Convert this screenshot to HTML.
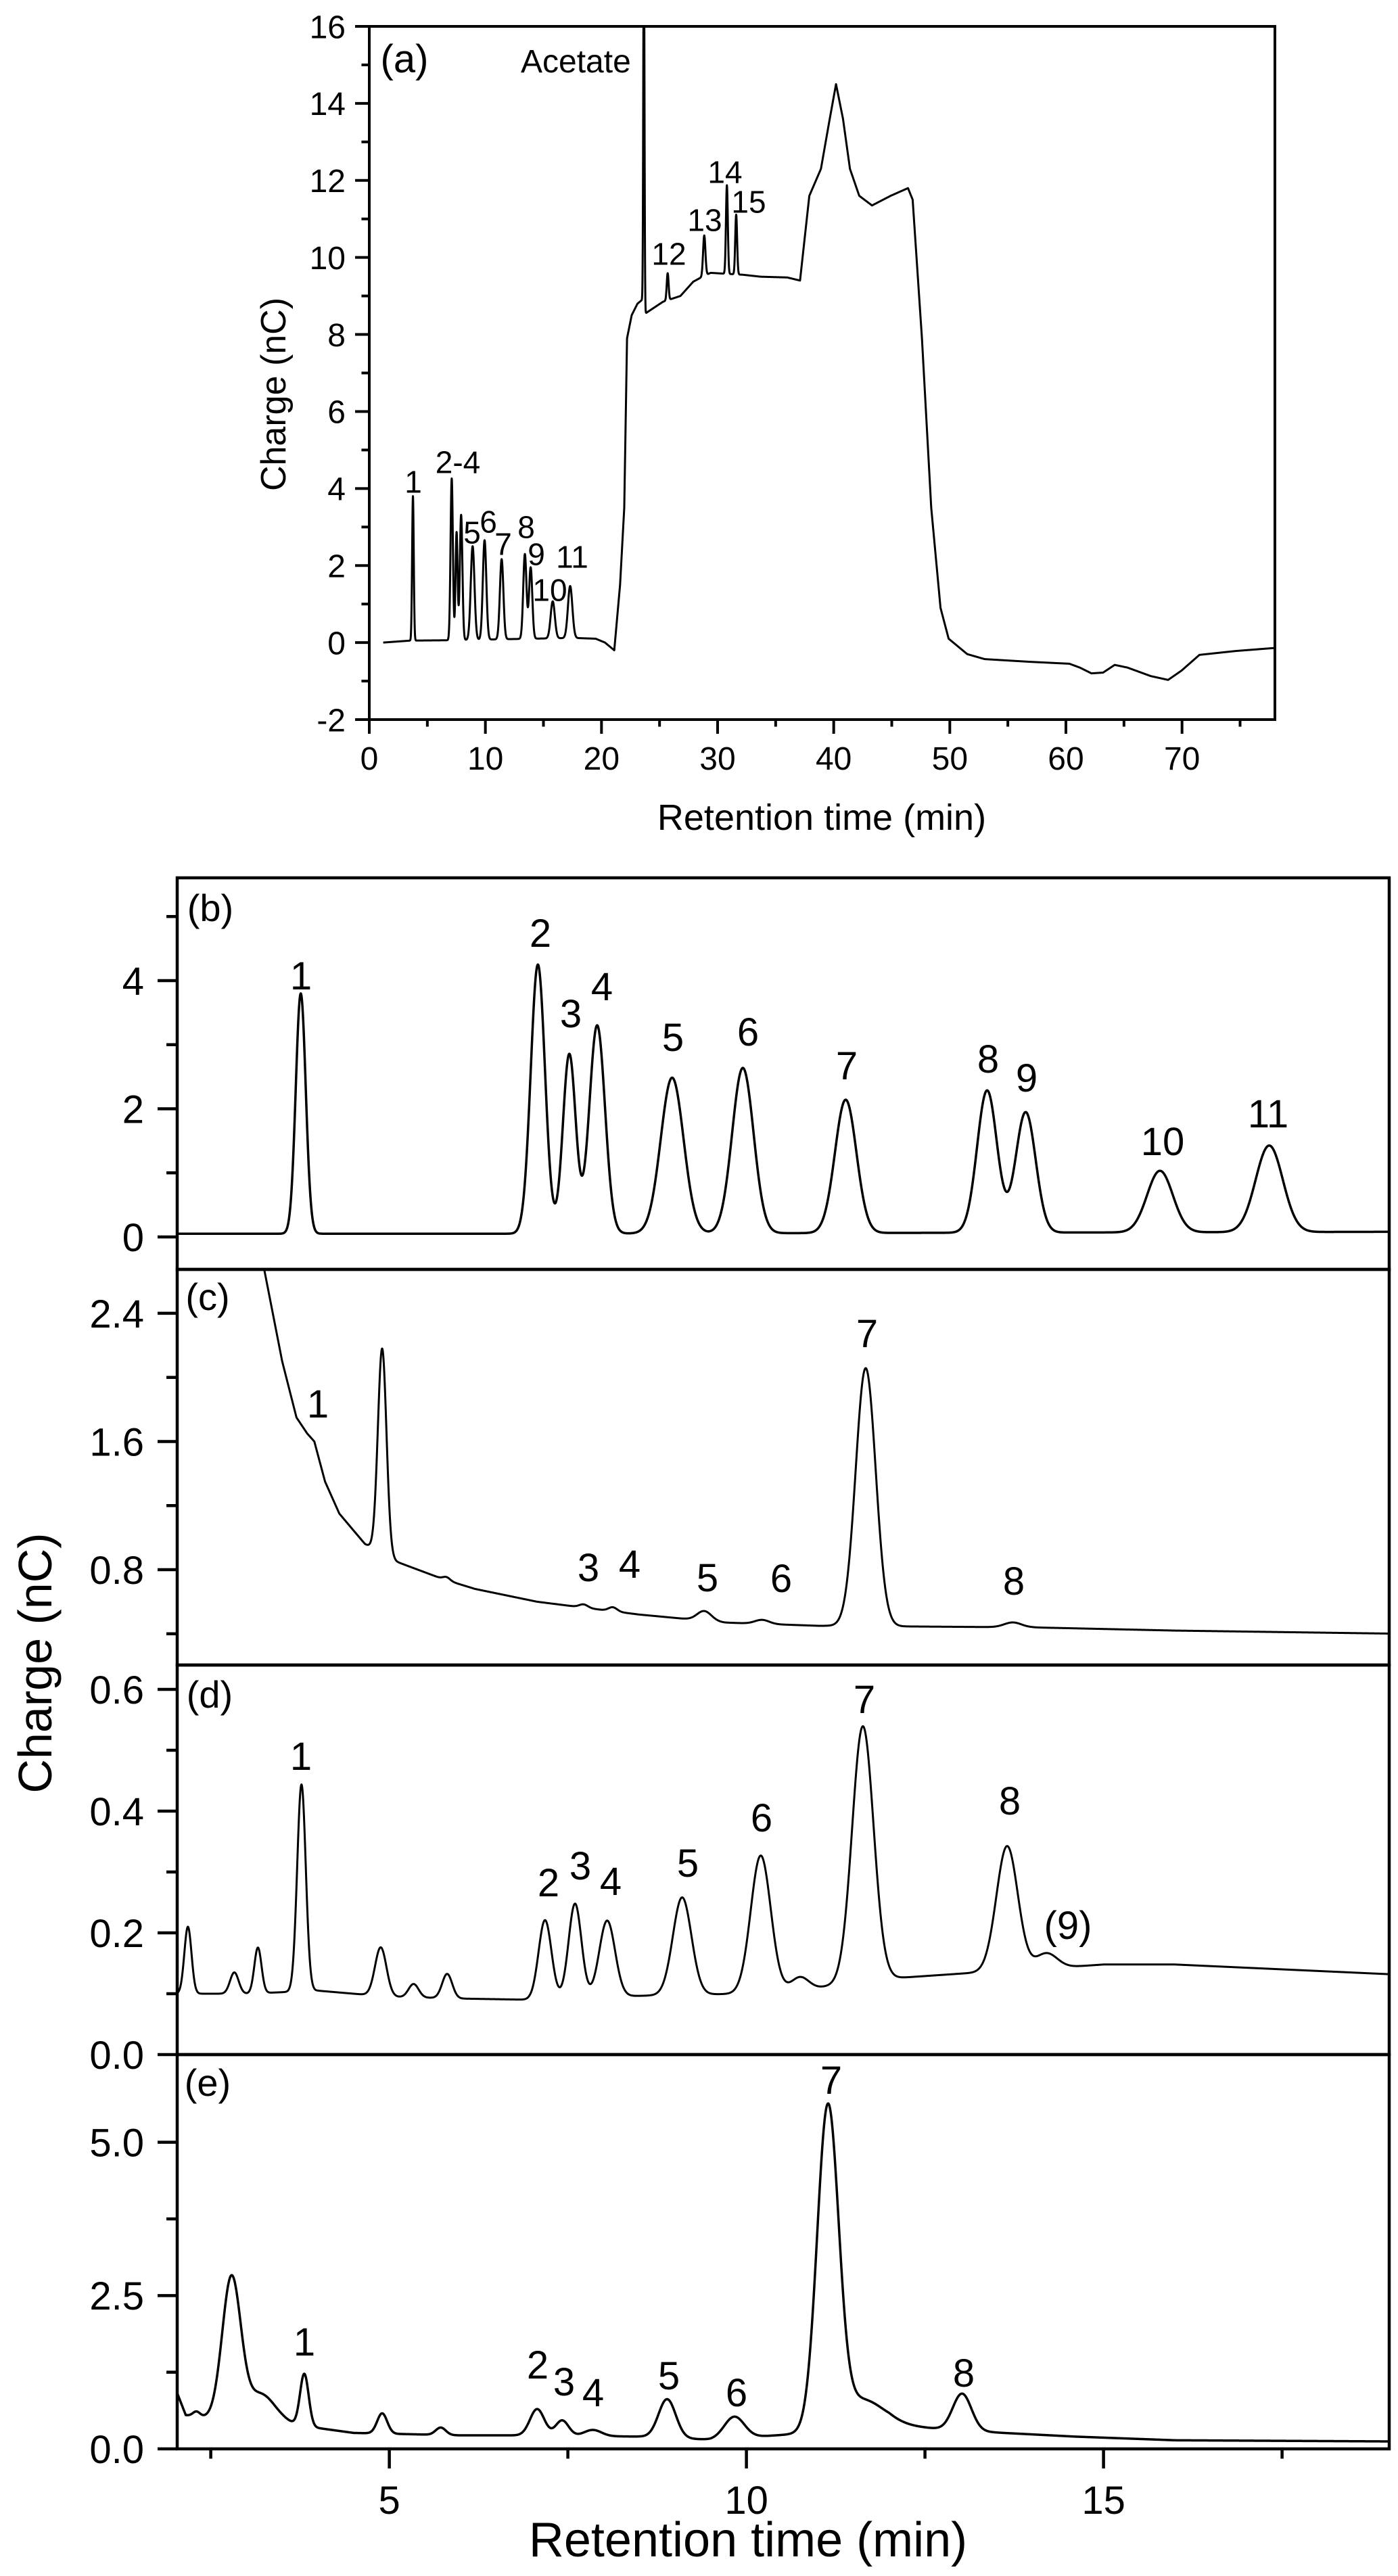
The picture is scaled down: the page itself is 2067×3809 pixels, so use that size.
<!DOCTYPE html>
<html><head><meta charset="utf-8"><style>
html,body{margin:0;padding:0;background:#fff}
svg{display:block}
text{font-family:"Liberation Sans",Arial,sans-serif;fill:#000}
</style></head><body>
<svg id="fig" width="2067" height="3809" viewBox="0 0 2067 3809" xmlns="http://www.w3.org/2000/svg">
<rect width="2067" height="3809" fill="#fff"/>
<g id="layer"></g>
</svg>
<script>
// ---------- Panel (a) data ----------
const aBaseT=[1.2,3.5,6.8,17.6,19.5,20.3,21.1,21.6,21.96,22.2,22.6,23.1,23.5,23.8,25.3,26.8,27.9,28.7,29.4,32.2,33.7,36.0,37.1,37.9,38.9,39.6,40.2,40.8,41.4,42.2,43.3,44.9,46.4,46.8,47.6,48.4,49.2,49.9,51.5,53.0,56.9,60.3,61.2,62.2,63.2,64.2,65.3,67.3,68.8,69.95,71.5,74.6,78];
const aBaseV=[0.0,0.05,0.06,0.12,0.1,0.0,-0.2,1.5,3.5,7.9,8.5,8.8,8.9,8.55,8.85,9.0,9.37,9.5,9.6,9.55,9.5,9.48,9.4,11.6,12.3,13.5,14.5,13.6,12.3,11.6,11.35,11.6,11.8,11.5,7.9,3.5,0.9,0.1,-0.3,-0.43,-0.5,-0.55,-0.65,-0.8,-0.78,-0.58,-0.65,-0.87,-0.97,-0.73,-0.32,-0.22,-0.14];
const aPeakT=[3.76,7.1,7.52,7.91,8.9,9.93,11.4,13.4,13.9,15.8,17.3,23.65,25.7,28.85,30.8,31.6];
const aPeakH=[3.75,4.2,2.8,3.25,2.43,2.58,2.08,2.2,1.85,0.96,1.35,10,0.7,1.05,2.3,1.55];
const aPeakW=[0.07,0.1,0.09,0.11,0.16,0.15,0.15,0.14,0.14,0.18,0.19,0.05,0.08,0.1,0.08,0.08];
// ---------- Panel (b) ----------
const bBaseT=[2.0,7.0,19.0];
const bBaseV=[0.05,0.05,0.08];
const bPeakT=[3.76,7.08,7.52,7.91,8.96,9.95,11.39,13.37,13.91,15.79,17.32];
const bPeakH=[3.75,4.2,2.8,3.25,2.43,2.58,2.08,2.22,1.88,0.96,1.35];
const bPeakW=[0.07,0.1,0.09,0.11,0.16,0.15,0.15,0.14,0.14,0.18,0.19];
// ---------- Panel (c) ----------
const cBaseT=[3.25,3.5,3.7,3.85,3.95,4.1,4.3,4.66,5.1,5.76,6.2,7.07,8.5,9.7,11.0,14.0,16.0,19.2];
const cBaseV=[2.67,2.1,1.75,1.65,1.6,1.35,1.15,0.96,0.85,0.74,0.68,0.6,0.52,0.47,0.45,0.44,0.42,0.40];
const cPeakT=[4.9,5.8,7.72,8.13,9.41,10.22,11.67,13.73];
const cPeakH=[1.28,0.02,0.02,0.025,0.06,0.025,1.61,0.03];
const cPeakW=[0.06,0.05,0.06,0.06,0.1,0.1,0.14,0.12];
// ---------- Panel (d) ----------
const dBaseT=[2.0,3.0,4.0,5.0,6.0,7.0,8.0,9.0,10.0,11.0,12.0,13.0,14.0,15.0,16.0,19.2];
const dBaseV=[0.10,0.10,0.105,0.095,0.092,0.09,0.095,0.098,0.10,0.11,0.125,0.133,0.14,0.148,0.148,0.131];
const dPeakT=[2.18,2.83,3.16,3.77,4.88,5.34,5.81,7.18,7.6,8.05,9.1,10.2,10.75,11.63,13.65,14.2];
const dPeakH=[0.11,0.035,0.075,0.34,0.08,0.022,0.04,0.13,0.155,0.125,0.16,0.225,0.02,0.42,0.205,0.025];
const dPeakW=[0.05,0.06,0.05,0.06,0.08,0.07,0.07,0.09,0.09,0.11,0.13,0.14,0.12,0.15,0.15,0.15];
// ---------- Panel (e) ----------
const eBaseT=[2.0,2.15,2.5,3.5,4.5,6.0,7.0,8.5,9.5,10.8,12.0,12.75,13.6,14.6,16.0,19.2];
const eBaseV=[1.0,0.55,0.5,0.42,0.26,0.22,0.22,0.2,0.15,0.25,0.4,0.32,0.26,0.2,0.14,0.12];
const ePeakT=[2.3,2.79,3.2,3.81,4.9,5.72,7.07,7.42,7.85,8.89,9.83,11.14,11.6,13.02];
const ePeakH=[0.08,2.3,0.45,0.85,0.33,0.12,0.43,0.25,0.1,0.63,0.35,5.2,0.45,0.6];
const ePeakW=[0.05,0.13,0.2,0.06,0.07,0.07,0.1,0.09,0.12,0.12,0.14,0.15,0.3,0.13];

const NS='http://www.w3.org/2000/svg';
const layer=document.getElementById('layer');
function mk(tag,attrs,parent){const e=document.createElementNS(NS,tag);for(const k in attrs)e.setAttribute(k,attrs[k]);(parent||layer).appendChild(e);return e;}
function interp(T,V,t){if(t<=T[0])return V[0];for(let i=1;i<T.length;i++){if(t<=T[i]){const f=(t-T[i-1])/(T[i]-T[i-1]);return V[i-1]+f*(V[i]-V[i-1]);}}return V[V.length-1];}
function val(bt,bv,pt,ph,pw,t){let v=interp(bt,bv,t);for(let i=0;i<pt.length;i++){const z=(t-pt[i])/pw[i];if(Math.abs(z)<8)v+=ph[i]*Math.exp(-0.5*z*z);}return v;}

function panel(o){
  const sx=t=>o.x0+(t-o.xmin)/(o.xmax-o.xmin)*(o.x1-o.x0);
  const sy=v=>o.y1-(v-o.ymin)/(o.ymax-o.ymin)*(o.y1-o.y0);
  const g=mk('g',{});
  
  
  const cid='clip-'+o.name;
  const cp=mk('clipPath',{id:cid},g);
  mk('rect',{x:o.x0,y:o.y0,width:o.x1-o.x0,height:o.y1-o.y0},cp);
  let d='';
  for(let t=o.t0;t<=o.t1+1e-9;t+=o.step){const v=val(o.bt,o.bv,o.pt,o.ph,o.pw,t);d+=(d?'L':'M')+sx(t).toFixed(2)+','+sy(v).toFixed(2);}
  const p=mk('path',{d:d,fill:'none',stroke:'#000','stroke-width':o.lw,'stroke-linejoin':'round','clip-path':'url(#'+cid+')'},g);
  
  
  const fr=mk('rect',{x:o.x0,y:o.y0,width:o.x1-o.x0,height:o.y1-o.y0,fill:'none',stroke:'#000','stroke-width':o.fw},g);
  
  
  const yax=mk('g',{},g);
  
  
  o.ymaj.forEach((v,i)=>{const y=sy(v);mk('line',{x1:o.x0-o.tl,x2:o.x0,y1:y,y2:y,stroke:'#000','stroke-width':o.fw},yax);
    const tx=mk('text',{x:o.x0-o.tl-o.gap,y:y+o.fs*0.36,'text-anchor':'end','font-size':o.fs},yax);tx.textContent=o.ylab[i];
    });
  o.ymin2.forEach(v=>{const y=sy(v);mk('line',{x1:o.x0-o.tl*0.55,x2:o.x0,y1:y,y2:y,stroke:'#000','stroke-width':o.fw},yax);});
  if(o.xmaj){
    const xax=mk('g',{},g);
    
    
    o.xmaj.forEach((v,i)=>{const x=sx(v);mk('line',{x1:x,x2:x,y1:o.y1,y2:o.y1+o.tl,stroke:'#000','stroke-width':o.fw},xax);
      const tx=mk('text',{x:x,y:o.xly,'text-anchor':'middle','font-size':o.fs},xax);tx.textContent=o.xlab[i];
      });
    o.xmin2.forEach(v=>{const x=sx(v);mk('line',{x1:x,x2:x,y1:o.y1,y2:o.y1+o.tl*0.5,stroke:'#000','stroke-width':o.fw},xax);});
  }
  (o.labels||[]).forEach(l=>{const tx=mk('text',{x:l[1],y:l[2]+o.lfs*0.36,'text-anchor':'middle','font-size':o.lfs},g);tx.textContent=l[0];
    });
  const pl=mk('text',{x:o.plx,y:o.ply+o.pfs*0.36,'text-anchor':'middle','font-size':o.pfs},g);pl.textContent=o.plabel;
  
}

const BX0=262,BX1=2054,BXMIN=2.03,BXMAX=19.0;
panel({name:'panel-a',x0:546,x1:1885,y0:39,y1:1064,xmin:0,xmax:78,ymin:-2,ymax:16,t0:1.2,t1:78,step:0.01,
  bt:aBaseT,bv:aBaseV,pt:aPeakT,ph:aPeakH,pw:aPeakW,lw:3,fw:4,tl:21,gap:14,fs:48,lfs:46,pfs:58,
  ymaj:[-2,0,2,4,6,8,10,12,14,16],ylab:['-2','0','2','4','6','8','10','12','14','16'],ymin2:[-1,1,3,5,7,9,11,13,15],
  xmaj:[0,10,20,30,40,50,60,70],xlab:['0','10','20','30','40','50','60','70'],xmin2:[5,15,25,35,45,55,65,75],xly:1138,
  labels:[['1',611,712],['2-4',677,683],['5',698,787],['6',722,771],['7',744,804],['8',778,779],['9',793,819],['10',813,872],['11',846,823],['12',989,375],['13',1042,325],['14',1072,254],['15',1107,298]],
  plabel:'(a)',plx:598,ply:86});
panel({name:'panel-b',x0:BX0,x1:BX1,y0:1298,y1:1877,xmin:BXMIN,xmax:BXMAX,ymin:-0.507,ymax:5.604,t0:2.03,t1:19,step:0.005,
  bt:bBaseT,bv:bBaseV,pt:bPeakT,ph:bPeakH,pw:bPeakW,lw:3.5,fw:4.5,tl:29,gap:20,fs:58,lfs:58,pfs:56,
  ymaj:[0,2,4],ylab:['0','2','4'],ymin2:[1,3,5],
  labels:[['1',445,1442],['2',799,1379],['3',844,1498],['4',890,1458],['5',995,1533],['6',1106,1525],['7',1252,1575],['8',1461,1565],['9',1518,1593],['10',1719,1687],['11',1875,1646]],
  plabel:'(b)',plx:311,ply:1342});
panel({name:'panel-c',x0:BX0,x1:BX1,y0:1877,y1:2462,xmin:BXMIN,xmax:BXMAX,ymin:0.205,ymax:2.674,t0:3.25,t1:19,step:0.005,
  bt:cBaseT,bv:cBaseV,pt:cPeakT,ph:cPeakH,pw:cPeakW,lw:3,fw:4.5,tl:29,gap:20,fs:58,lfs:58,pfs:56,
  ymaj:[0.8,1.6,2.4],ylab:['0.8','1.6','2.4'],ymin2:[0.4,1.2,2.0],
  labels:[['1',470,2075],['3',870,2317],['4',931,2312],['5',1046,2332],['6',1155,2333],['7',1282,1971],['8',1499,2337]],
  plabel:'(c)',plx:307,ply:1917});
panel({name:'panel-d',x0:BX0,x1:BX1,y0:2462,y1:3038,xmin:BXMIN,xmax:BXMAX,ymin:0,ymax:0.64,t0:2.03,t1:19,step:0.005,
  bt:dBaseT,bv:dBaseV,pt:dPeakT,ph:dPeakH,pw:dPeakW,lw:3,fw:4.5,tl:29,gap:20,fs:58,lfs:58,pfs:56,
  ymaj:[0,0.2,0.4,0.6],ylab:['0.0','0.2','0.4','0.6'],ymin2:[0.1,0.3,0.5],
  labels:[['1',445,2596],['2',811,2783],['3',858,2758],['4',903,2781],['5',1017,2754],['6',1126,2687],['7',1278,2512],['8',1493,2662],['(9)',1579,2846]],
  plabel:'(d)',plx:310,ply:2505});
panel({name:'panel-e',x0:BX0,x1:BX1,y0:3038,y1:3621,xmin:BXMIN,xmax:BXMAX,ymin:0,ymax:6.43,t0:2.03,t1:19,step:0.005,
  bt:eBaseT,bv:eBaseV,pt:ePeakT,ph:ePeakH,pw:ePeakW,lw:3.5,fw:4.5,tl:29,gap:20,fs:58,lfs:58,pfs:56,
  ymaj:[0,2.5,5.0],ylab:['0.0','2.5','5.0'],ymin2:[1.25,3.75],
  xmaj:[5,10,15],xlab:['5','10','15'],xmin2:[2.5,7.5,12.5,17.5],xly:3717,
  labels:[['7',1229,3075],['1',450,3462],['2',795,3496],['3',834,3521],['4',877,3537],['5',989,3512],['6',1089,3537],['8',1425,3508]],
  plabel:'(e)',plx:307,ply:3079});

let t;
t=mk('text',{x:1215,y:1227,'text-anchor':'middle','font-size':54});t.textContent='Retention time (min)';

t=mk('text',{x:0,y:0,'text-anchor':'middle','font-size':52,transform:'translate(422,583) rotate(-90)'});t.textContent='Charge (nC)';

t=mk('text',{x:1106,y:3780,'text-anchor':'middle','font-size':72});t.textContent='Retention time (min)';

t=mk('text',{x:0,y:0,'text-anchor':'middle','font-size':70,transform:'translate(76,2459) rotate(-90)'});t.textContent='Charge (nC)';

t=mk('text',{x:770,y:107,'text-anchor':'start','font-size':48});t.textContent='Acetate';

</script>
</body></html>
